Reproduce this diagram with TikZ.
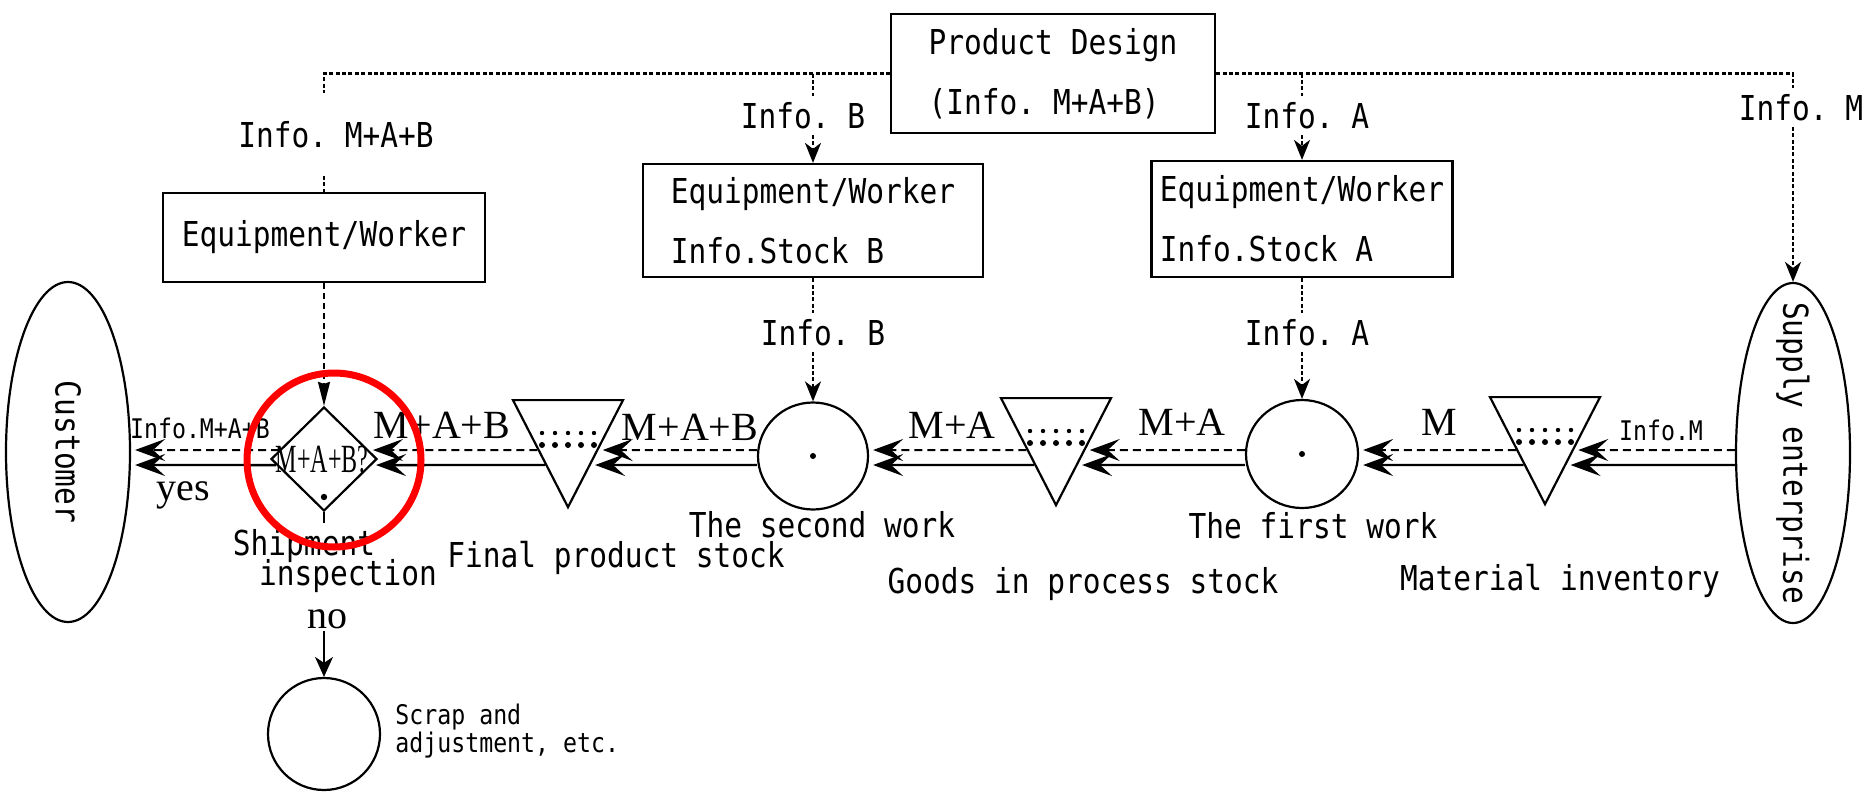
\documentclass[tikz,border=0pt]{standalone}
\usepackage{fontspec}
\usepackage{graphicx}
\usetikzlibrary{arrows.meta,shapes.geometric,calc}
\newfontfamily\gothic[FakeStretch=0.86]{DejaVu Sans Mono}
\newfontfamily\mincho{Liberation Serif}
\newfontfamily\minchonarrow[FakeStretch=0.6]{Liberation Serif}
\newcommand\gothicL{\gothic\fontsize{17.15pt}{30pt}\selectfont\frenchspacing}
\newcommand\gothicS{\gothic\fontsize{13.5pt}{14pt}\selectfont\frenchspacing}
\newcommand\minchoL{\mincho\fontsize{20pt}{24pt}\selectfont}
\newcommand\minchoN{\minchonarrow\fontsize{20pt}{24pt}\selectfont}
\begin{document}
\begin{tikzpicture}[x=0.5pt,y=-0.5pt,
  shapeline/.style={draw, line width=1.1pt, fill=white, inner sep=0pt},
  box/.style={shapeline, align=left, font=\gothicL},
  workcircle/.style={shapeline, ellipse},
  stock/.style={shapeline, isosceles triangle, shape border rotate=270,
    isosceles triangle stretches, minimum width=55pt, minimum height=53.5pt},
  party/.style={shapeline, ellipse, font=\gothicL},
  check/.style={shapeline, diamond, minimum width=53pt, minimum height=52pt},
  biglabel/.style={font=\gothicL, inner sep=3pt, anchor=base},
  smalllabel/.style={font=\gothicS, inner sep=0pt, anchor=base},
  flowlabel/.style={font=\minchoL, inner sep=1pt, anchor=base},
  designline/.style={line width=1.1pt, dash pattern=on 2pt off 1.2pt},
  designarrow/.style={designline, -{Stealth[length=10pt,width=8pt,inset=3pt]}},
  flowtip/.style={-{Stealth[length=15pt,width=11pt,inset=6pt]}, shorten >=2pt},
  infoflow/.style={line width=1pt, dash pattern=on 4pt off 2.5pt, flowtip},
  matflow/.style={line width=1.2pt, flowtip},
  controlarrow/.style={line width=1pt, dash pattern=on 3pt off 2pt,
    -{Stealth[length=12pt,width=6pt,inset=1pt]}},
  rejectarrow/.style={line width=1pt, -{Stealth[length=10pt,width=9pt,inset=3pt]}},
  highlight/.style={circle, draw=red, line width=3.5pt, minimum size=87pt, inner sep=0pt}]

\fill[white] (0,0) rectangle (1867,793);
\useasboundingbox (0,0) rectangle (1867,793);

% design and resource boxes
\node[box, minimum width=162pt, minimum height=59.5pt] (pd) at (1053,73.5)
  {Product Design\\(Info. M+A+B)};
\node[box, minimum width=161pt, minimum height=44.5pt] (b1) at (324,237.5) {Equipment/Worker};
\node[box, minimum width=170pt, minimum height=56.5pt] (b2) at (813,220.5)
  {Equipment/Worker\\Info.Stock B};
\node[box, minimum width=150.5pt, minimum height=58pt] (b3) at (1302,219)
  {Equipment/Worker\\Info.Stock A};

% customer and supplier
\node[party, minimum width=62pt, minimum height=170pt] (cust) at (68,452)
  {\rotatebox{-90}{\makebox[0pt]{Customer}}};
\node[party, minimum width=57pt, minimum height=170pt] (sup) at (1793,453)
  {\rotatebox{-90}{\makebox[0pt]{Supply enterprise}}};

% process chain
\node[check] (dia) at (324,459) {};
\node[font=\minchoN, inner sep=0pt] (diatext) at ($(dia.center)+(-2,1)$) {M+A+B?};
\node[stock, anchor=apex] (t1) at (568,510) {};
\node[workcircle, minimum width=55pt, minimum height=53.5pt] (c2) at (813,456) {};
\node[stock, anchor=apex] (t2) at (1056,508) {};
\node[workcircle, minimum width=56pt, minimum height=54pt] (c1) at (1302,454) {};
\node[stock, anchor=apex] (t3) at (1545,507) {};
\node[shapeline, circle, minimum size=56pt] (scrap) at (324,734) {};

% stock contents and work marks
\foreach \t in {t1,t2,t3}{
  \foreach \i in {-2,...,2}{
    \fill ($(\t.apex)+(\i*13,-77)$) circle[radius=1.1pt];
    \fill ($(\t.apex)+(\i*13,-65)$) circle[radius=1.5pt];
  }
}
\fill (c1.center) circle[radius=1.5pt];
\fill (c2.center) circle[radius=1.5pt];
\fill ($(dia.center)+(0,38)$) circle[radius=1.6pt];

% labels of the information drops
\node[biglabel, inner ysep=14pt] (lMAB) at (336,147) {Info. M+A+B};
\node[biglabel] (lB1) at (803,128) {Info. B};
\node[biglabel] (lA1) at (1307,128) {Info. A};
\node[biglabel] (lM) at (1801,120) {Info. M};
\node[biglabel] (lB2) at (823,345) {Info. B};
\node[biglabel] (lA2) at (1307,345) {Info. A};

% design information tree
\draw[designline] (pd.west) -- (b1.north |- pd.west) -- (lMAB.north -| b1.north);
\draw[designline] (lMAB.south -| b1.north) -- (b1.north);
\draw[designline] (b2.north |- pd.west) -- (lB1.north -| b2.north);
\draw[designarrow] (lB1.south -| b2.north) -- (b2.north);
\draw[designline] (b3.north |- pd.east) -- (lA1.north -| b3.north);
\draw[designarrow] (lA1.south -| b3.north) -- (b3.north);
\draw[designline] (pd.east) -- (sup.north |- pd.east) -- (lM.north -| sup.north);
\draw[designarrow] (lM.south -| sup.north) -- (sup.north);
\draw[designline] (b2.south) -- (lB2.north -| b2.south);
\draw[designarrow] (lB2.south -| c2.north) -- (c2.north);
\draw[designline] (b3.south) -- (lA2.north -| b3.south);
\draw[designarrow] (lA2.south -| c1.north) -- (c1.north);
\draw[controlarrow] (b1.south) -- (dia.north);

% the two rails: information (dashed) and material (solid)
\coordinate (iA) at (0,450);  \coordinate (iB) at (1867,450);
\coordinate (mA) at (0,465);  \coordinate (mB) at (1867,465);
\foreach \t in {t1,t2,t3}{
  \coordinate (\t inI) at (intersection of \t.left corner--\t.apex and iA--iB);
  \coordinate (\t inM) at (intersection of \t.left corner--\t.apex and mA--mB);
  \coordinate (\t outI) at (intersection of \t.right corner--\t.apex and iA--iB);
  \coordinate (\t outM) at (intersection of \t.right corner--\t.apex and mA--mB);
}
\coordinate (diainI) at (intersection of dia.east--dia.north and iA--iB);
\coordinate (diainM) at (intersection of dia.east--dia.south and mA--mB);
\coordinate (diaoutI) at (intersection of dia.west--dia.north and iA--iB);
\coordinate (diaoutM) at (intersection of dia.west--dia.south and mA--mB);

\draw[infoflow] (sup.west |- iA) -- (t3inI);
\draw[matflow]  (sup.west |- mA) -- (t3inM);
\draw[infoflow] (t3outI) -- (c1.east |- iA);
\draw[matflow]  (t3outM) -- (c1.east |- mA);
\draw[infoflow] (c1.west |- iA) -- (t2inI);
\draw[matflow]  (c1.west |- mA) -- (t2inM);
\draw[infoflow] (t2outI) -- (c2.east |- iA);
\draw[matflow]  (t2outM) -- (c2.east |- mA);
\draw[infoflow] (c2.west |- iA) -- (t1inI);
\draw[matflow]  (c2.west |- mA) -- (t1inM);
\draw[infoflow] (t1outI) -- (diainI);
\draw[matflow]  (t1outM) -- (diainM);
\draw[infoflow] (diaoutI) -- (cust.east |- iA);
\draw[matflow]  (diaoutM) -- (cust.east |- mA);

% rejected items
\coordinate (diastub) at ($(dia.south)+(0,11)$);
\draw[line width=1pt] (dia.south) -- (diastub);
\node[flowlabel] (nolab) at (327,628) {no};
\draw[rejectarrow] (nolab.south -| scrap.north) -- (scrap.north);

% flow labels
\node[smalllabel] (fMABi) at (200,438) {Info.M+A+B};
\node[flowlabel] (fMAB1) at (442,438) {M+A+B};
\node[flowlabel] (fMAB2) at (690,440) {M+A+B};
\node[flowlabel] (fMA1) at (952,438) {M+A};
\node[flowlabel] (fMA2) at (1182,435) {M+A};
\node[flowlabel] (fM) at (1439,435) {M};
\node[smalllabel] (fMi) at (1661,440) {Info.M};
\node[flowlabel] (yeslab) at (183,500) {yes};

% names of the stations
\node[biglabel] (nShip1) at (304,555) {Shipment};
\node[biglabel] (nShip2) at (348,585) {inspection};
\node[biglabel] (nFinal) at (616,567) {Final product stock};
\node[biglabel] (nSecond) at (822,537) {The second work};
\node[biglabel] (nFirst) at (1313,538) {The first work};
\node[biglabel] (nGoods) at (1083,593) {Goods in process stock};
\node[biglabel] (nMat) at (1560,590) {Material inventory};
\node[smalllabel, anchor=west, align=left] (nScrap) at (395,731) {Scrap and\\adjustment, etc.};

% highlight of the inspection step
\node[highlight] (mark) at (334,460) {};
\end{tikzpicture}
\end{document}
